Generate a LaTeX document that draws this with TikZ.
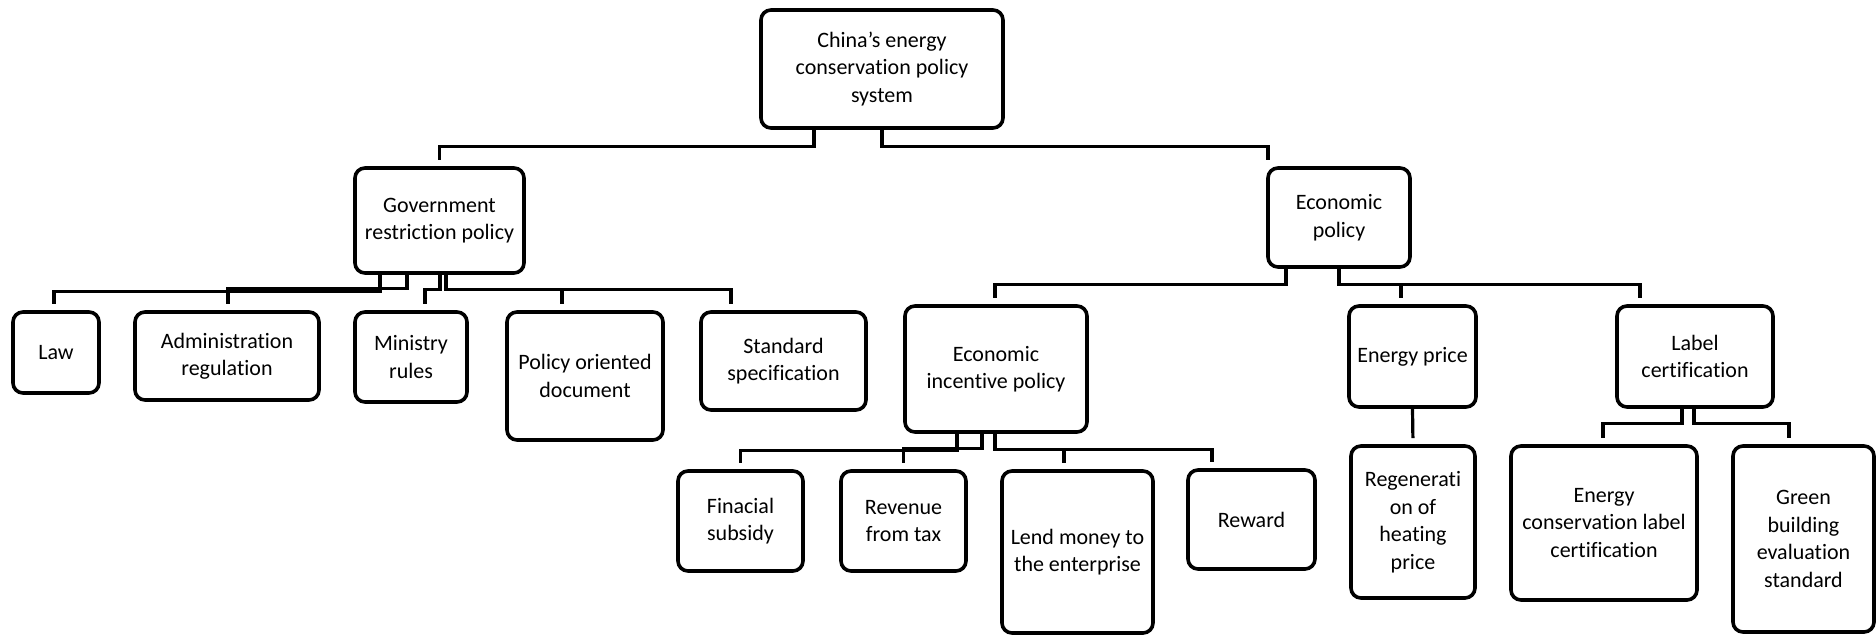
\documentclass[tikz,border=0pt]{standalone}
\usepackage{fontspec}
\setmainfont[Ligatures=NoCommon]{Carlito}
\usetikzlibrary{calc}
\begin{document}
\begin{tikzpicture}[x=0.5pt,y=-0.5pt,
  box/.style={draw=black,line width=1.8pt,rounded corners=5pt,align=center,inner sep=0pt,
    font=\fontsize{11}{13.75}\selectfont},
  link/.style={draw=black,line width=1.6pt,shorten >=3pt}]
\useasboundingbox (0,0) rectangle (1876,634);
% level 0
\node[box,minimum width=121pt,minimum height=59pt] (root) at (882,69) {China’s energy\\conservation policy\\system};
% level 1
\node[box,minimum width=84.5pt,minimum height=52.5pt] (gov) at (439.5,220.5) {Government\\restriction policy};
\node[box,minimum width=71pt,minimum height=49.5pt] (econ) at (1339,217.5) {Economic\\policy};
% level 2 (government)
\node[box,minimum width=43pt,minimum height=40.5pt] (law) at (56,352.5) {Law};
\node[box,minimum width=92pt,minimum height=44pt] (admin) at (227,356) {Administration\\regulation};
\node[box,minimum width=56pt,minimum height=45pt] (ministry) at (411,357) {Ministry\\rules};
\node[box,minimum width=78pt,minimum height=64pt] (policy) at (585,376) {Policy oriented\\document};
\node[box,minimum width=82.5pt,minimum height=49pt] (standard) at (783.5,361) {Standard\\specification};
% level 2 (economic)
\node[box,minimum width=91pt,minimum height=63pt] (econinc) at (996,369) {Economic\\incentive policy};
\node[box,minimum width=63.5pt,minimum height=50.5pt] (eprice) at (1412.5,356.5) {Energy price};
\node[box,minimum width=78pt,minimum height=50.5pt] (label) at (1695,356.5) {Label\\certification};
% level 3
\node[box,minimum width=62.5pt,minimum height=50pt] (fin) at (740.5,521) {Finacial\\subsidy};
\node[box,minimum width=62.5pt,minimum height=50pt] (rev) at (903.5,521) {Revenue\\from tax};
\node[box,minimum width=75.5pt,minimum height=81pt] (lend) at (1077.5,552) {Lend money to\\the enterprise};
\node[box,minimum width=63.5pt,minimum height=49.5pt] (reward) at (1251.5,519.5) {Reward};
\node[box,minimum width=62pt,minimum height=76pt] (regen) at (1413,522) {Regenerati\\on of\\heating\\price};
\node[box,minimum width=93pt,minimum height=77pt] (ecl) at (1604,523) {Energy\\conservation label\\certification};
\node[box,minimum width=70.5pt,minimum height=93pt] (green) at (1803.5,539) {Green\\building\\evaluation\\standard};
% connectors
\draw[link] ($(root.south)+(-68,0)$) -- ++(0,17) -| (gov.north);
\draw[link] (root.south) -- ++(0,17) -| ($(econ.north)+(-71,0)$);
\draw[link] ($(gov.south)+(-59.5,0)$) -- ++(0,17) -| ($(law.north)+(-2,0)$);
\draw[link] ($(gov.south)+(-32.5,0)$) -- ++(0,14) -| ($(admin.north)+(1,0)$);
\draw[link] ($(gov.south)+(0.5,0)$) -- ++(0,15) -| ($(ministry.north)+(14,0)$);
\draw[link] ($(gov.south)+(6.5,0)$) -- ++(0,15) -| ($(policy.north)+(-23,0)$);
\draw[link] ($(gov.south)+(6.5,0)$) -- ++(0,15) -| ($(standard.north)+(-52.5,0)$);
\draw[link] ($(econ.south)+(-53,0)$) -- ++(0,16) -| ($(econinc.north)+(-1,0)$);
\draw[link] (econ.south) -- ++(0,16) -| ($(eprice.north)+(-11.5,0)$);
\draw[link] (econ.south) -- ++(0,16) -| ($(label.north)+(-55,0)$);
\draw[link] ($(econinc.south)+(-39,0)$) -- ++(0,17) -| (fin.north);
\draw[link] ($(econinc.south)+(-14,0)$) -- ++(0,15) -| (rev.north);
\draw[link] ($(econinc.south)+(-1,0)$) -- ++(0,16) -| ($(lend.north)+(-13.5,0)$);
\draw[link] ($(econinc.south)+(-1,0)$) -- ++(0,16) -| ($(reward.north)+(-39.5,0)$);
\draw[link] (eprice.south) -- (regen.north);
\draw[link] ($(label.south)+(-13,0)$) -- ++(0,15) -| ($(ecl.north)+(-1,0)$);
\draw[link] ($(label.south)+(-1,0)$) -- ++(0,15) -| ($(green.north)+(-14.5,0)$);
\end{tikzpicture}
\end{document}
